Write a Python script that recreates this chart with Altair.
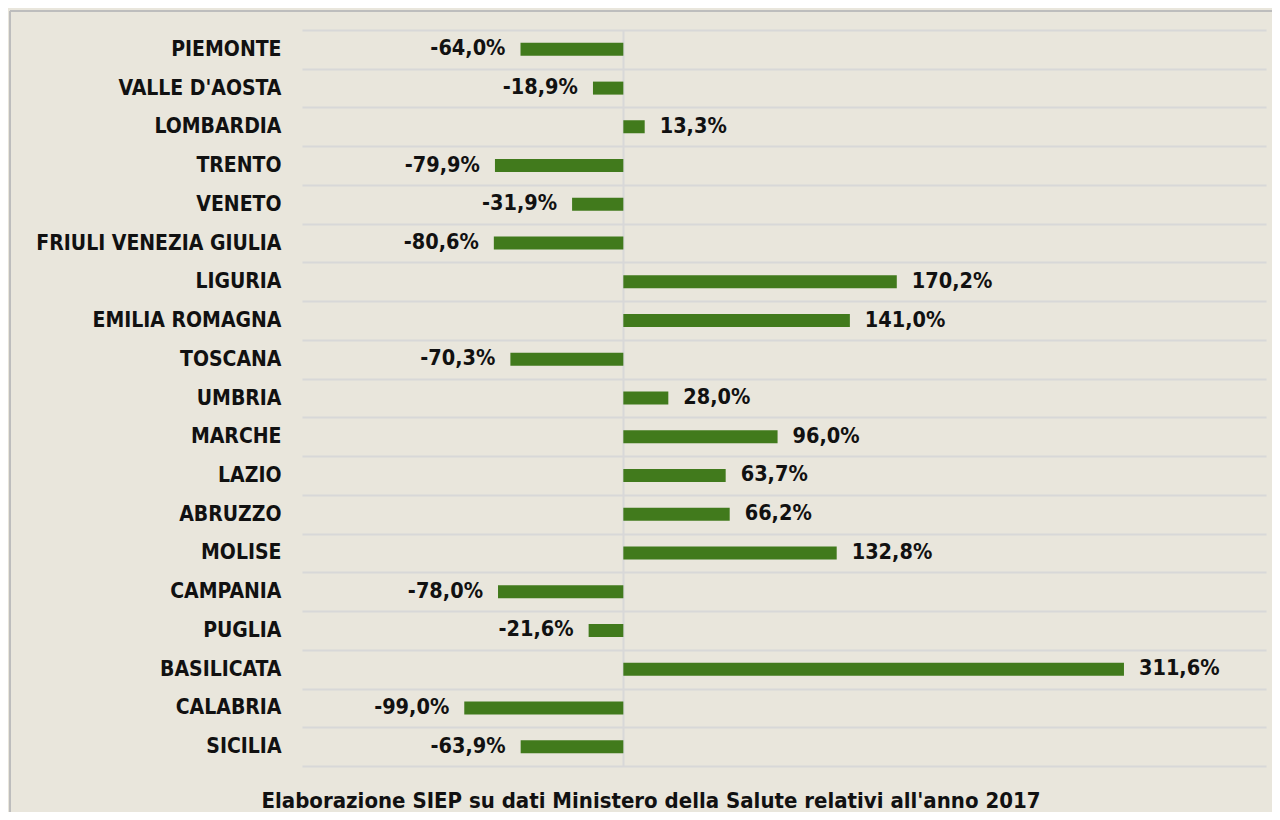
import altair as alt
import pandas as pd

regions = ["PIEMONTE", "VALLE D'AOSTA", "LOMBARDIA", "TRENTO", "VENETO",
           "FRIULI VENEZIA GIULIA", "LIGURIA", "EMILIA ROMAGNA", "TOSCANA",
           "UMBRIA", "MARCHE", "LAZIO", "ABRUZZO", "MOLISE", "CAMPANIA",
           "PUGLIA", "BASILICATA", "CALABRIA", "SICILIA"]
values = [-64.0, -18.9, 13.3, -79.9, -31.9, -80.6, 170.2, 141.0, -70.3,
          28.0, 96.0, 63.7, 66.2, 132.8, -78.0, -21.6, 311.6, -99.0, -63.9]
footer = "Elaborazione SIEP su dati Ministero della Salute relativi all'anno 2017"

df = pd.DataFrame({"region": regions, "value": values})
df["label"] = df["value"].map(lambda v: f"{v:.1f}".replace(".", ",") + "%")

FONT = "DejaVu Sans Condensed"
BG = "#E9E6DC"
GREEN = "#417A1C"
TXT = "#111111"

y_enc = alt.Y("region:N", sort=regions,
              scale=alt.Scale(paddingInner=0, paddingOuter=0),
              axis=alt.Axis(title=None, ticks=False, domain=False,
                            labelFontSize=21, labelFontWeight="bold",
                            labelFont=FONT, labelColor=TXT, labelLimit=400,
                            labelPadding=21, grid=True, tickBand="extent",
                            gridColor="#D8D8D8", gridWidth=2))
x_enc = alt.X("value:Q", scale=alt.Scale(domain=[-200, 400], nice=False),
              axis=alt.Axis(title=None, labels=False, ticks=False,
                            domain=False, values=[0], grid=True,
                            gridColor="#D8D8D8", gridWidth=2))

base = alt.Chart(df)
bars = base.mark_bar(color=GREEN, height=13).encode(x=x_enc, y=y_enc)

ysimple = alt.Y("region:N", sort=regions)
neg = base.transform_filter("datum.value < 0").mark_text(
    align="right", dx=-15, fontSize=21.5, fontWeight="bold", font=FONT,
    color=TXT).encode(x="value:Q", y=ysimple, text="label:N")
pos = base.transform_filter("datum.value >= 0").mark_text(
    align="left", dx=15, fontSize=21.5, fontWeight="bold", font=FONT,
    color=TXT).encode(x="value:Q", y=ysimple, text="label:N")

foot = alt.Chart(pd.DataFrame({"t": [footer]})).mark_text(
    align="center", baseline="middle", fontSize=22, fontWeight="bold",
    font=FONT, color=TXT).encode(
    text="t:N", x=alt.value(349), y=alt.value(771))

border_top = alt.Chart(pd.DataFrame({"a": [0]})).mark_rule(
    color="#BDBDBD", strokeWidth=2).encode(
    x=alt.value(-292), x2=alt.value(978), y=alt.value(-19))
border_left = alt.Chart(pd.DataFrame({"a": [0]})).mark_rule(
    color="#BDBDBD", strokeWidth=2).encode(
    x=alt.value(-292), y=alt.value(-19), y2=alt.value(800))

chart = alt.layer(border_top, border_left, bars, neg, pos, foot).properties(
    width=964, height=736,
    autosize=alt.AutoSizeParams(type="none"),
    padding={"left": 294, "top": 22, "right": 6, "bottom": 46},
    background=BG,
).configure_view(stroke=None)

chart.save("out.html", embed_options={"renderer": "svg", "actions": False})
